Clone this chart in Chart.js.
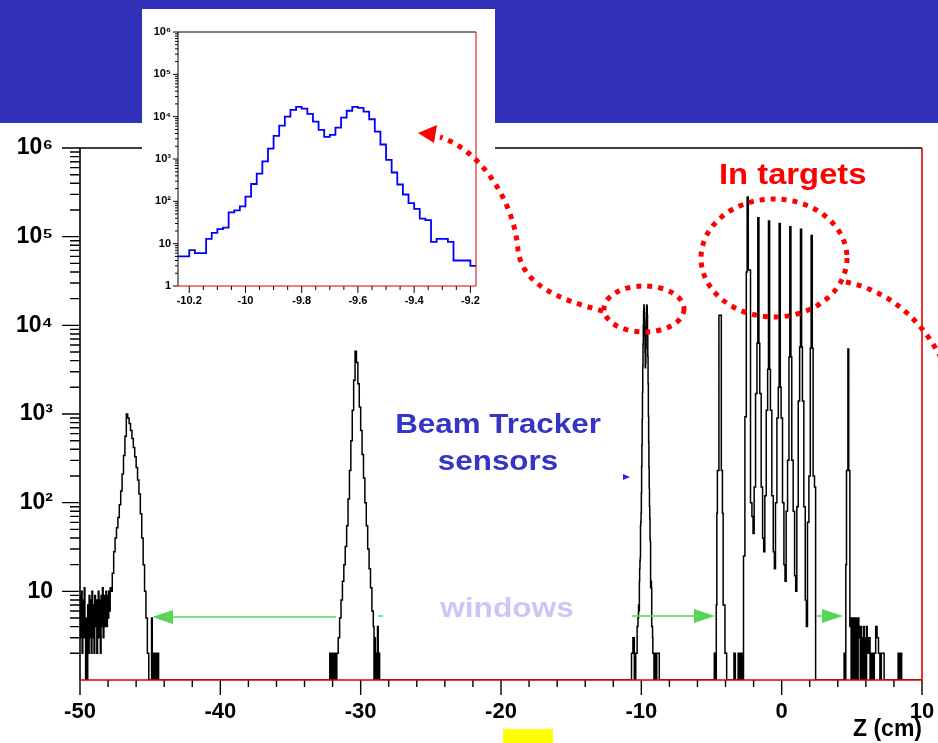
<!DOCTYPE html>
<html>
<head>
<meta charset="utf-8">
<script src="https://cdn.jsdelivr.net/npm/chart.js@4/dist/chart.umd.min.js"></script>
<style>
  html, body { margin: 0; padding: 0; background: #fff; }
  #page { position: relative; width: 938px; height: 743px; overflow: hidden; background: #fff; }
  #band { position: absolute; left: 0; top: 0; width: 938px; height: 123px; background: #3131b9; }
  #main { position: absolute; left: 0; top: 0; }
  #inset { position: absolute; left: 142px; top: 9px; background: #fff; }
  #callouts { position: absolute; left: 0; top: 0; pointer-events: none; }
</style>
</head>
<body>
<div id="page">
  <div id="band"></div>
  <canvas id="main" width="938" height="743"></canvas>
  <canvas id="inset" width="353" height="300"></canvas>
  <canvas id="callouts" width="938" height="743"></canvas>
</div>
<script>
// Vertex Z distribution, entries per bin: [left edge (cm), entries].
// Empty bins are kept at 1 so they sit on the bottom of the log axis.
const upstreamSensor = [
  [-50.00, 9], [-49.95, 3], [-49.90, 10], [-49.85, 2], [-49.80, 8], [-49.75, 3],
  [-49.70, 11], [-49.65, 4], [-49.60, 1], [-49.55, 5], [-49.50, 1], [-49.45, 7],
  [-49.40, 2], [-49.35, 9], [-49.30, 3], [-49.25, 8], [-49.20, 2], [-49.15, 10],
  [-49.10, 3], [-49.05, 7], [-49.00, 2], [-48.95, 9], [-48.90, 4], [-48.85, 8],
  [-48.80, 2], [-48.75, 6], [-48.70, 10], [-48.65, 3], [-48.60, 8], [-48.55, 2],
  [-48.50, 9], [-48.45, 4], [-48.40, 11], [-48.35, 3], [-48.30, 9], [-48.25, 4],
  [-48.20, 7], [-48.15, 10], [-48.10, 4], [-48.05, 9], [-48.00, 5], [-47.95, 10],
  [-47.90, 6], [-47.85, 11],
  [-47.8, 10], [-47.7, 16], [-47.6, 28], [-47.5, 40], [-47.4, 52], [-47.3, 68],
  [-47.2, 95], [-47.1, 135], [-47.0, 210], [-46.9, 340], [-46.8, 560], [-46.7, 1000],
  [-46.6, 900], [-46.5, 780], [-46.4, 650], [-46.3, 530], [-46.2, 420], [-46.1, 330],
  [-46.0, 250], [-45.9, 180], [-45.8, 125], [-45.7, 75], [-45.6, 40], [-45.5, 20],
  [-45.4, 10], [-45.3, 5], [-45.2, 2], [-45.1, 1], [-44.9, 5], [-44.85, 2], [-44.8, 1],
  [-44.75, 2], [-44.7, 1], [-44.65, 2], [-44.55, 1], [-44.5, 2], [-44.4, 1]
];

const midSensor = [
  [-32.2, 2], [-32.15, 1], [-32.1, 2], [-32.05, 1], [-32.0, 2], [-31.9, 1],
  [-31.85, 2], [-31.8, 1], [-31.7, 2], [-31.6, 3], [-31.5, 5], [-31.4, 8], [-31.3, 13],
  [-31.2, 20], [-31.1, 32], [-31.0, 55], [-30.9, 110], [-30.8, 230], [-30.7, 500],
  [-30.6, 1100], [-30.5, 2400], [-30.4, 5100], [-30.3, 3800], [-30.2, 2200], [-30.1, 1200],
  [-30.0, 650], [-29.9, 350], [-29.8, 190], [-29.7, 100], [-29.6, 55], [-29.5, 30],
  [-29.4, 18], [-29.3, 11], [-29.2, 6], [-29.1, 4], [-29.05, 1], [-29.0, 3], [-28.95, 1],
  [-28.9, 2], [-28.85, 1], [-28.8, 4], [-28.75, 1], [-28.7, 2], [-28.65, 1]
];

// sensor near -10 cm: outer tails here, the core is the fine-binned zoom below
const sensor3Lead = [
  [-10.9, 1], [-10.7, 2], [-10.6, 3], [-10.5, 1], [-10.4, 2], [-10.3, 4]
];
const sensor3Trail = [[-9.18, 2], [-9.1, 1], [-9.05, 2], [-8.95, 1], [-8.9, 2], [-8.72, 1]];

// fine binning of the -10 cm sensor (0.02 cm bins from -10.24 to -9.18)
const insetStart = -10.24;
const insetEnd = -9.18;
const insetBinWidth = 0.02;
const insetCounts = [
  5, 5, 7, 6, 6, 13, 18, 22, 24, 55,
  61, 76, 129, 257, 450, 880, 1760, 3500, 6160, 10000,
  14500, 17000, 15500, 11700, 7600, 4900, 3330, 3700, 5500, 9500,
  13800, 17000, 16200, 13200, 8700, 4450, 2200, 950, 480, 250,
  145, 91, 66, 39, 36, 11, 13, 13, 11, 4,
  4, 4, 3
];

const upstreamWindow = [
  [-4.8, 2], [-4.7, 1], [-4.66, 7], [-4.62, 76], [-4.58, 230], [-4.47, 13000],
  [-4.3, 230], [-4.22, 76], [-4.17, 7], [-4.04, 2], [-3.92, 1]
];

const targets = [
  [-3.4, 2], [-3.3, 1], [-3.1, 2], [-3.0, 1], [-2.9, 2], [-2.8, 1],
  [-2.72, 25], [-2.62, 930], [-2.52, 40000], [-2.46, 280000], [-2.38, 42000],
  [-2.22, 100], [-2.12, 70], [-2.04, 45],
  [-1.96, 150], [-1.86, 1700], [-1.76, 6300], [-1.70, 163000], [-1.62, 6300],
  [-1.56, 1700], [-1.46, 150], [-1.36, 40], [-1.28, 28],
  [-1.20, 120], [-1.10, 1100], [-1.00, 3200], [-0.94, 150000], [-0.86, 3200],
  [-0.80, 1100], [-0.70, 120], [-0.60, 28], [-0.52, 18],
  [-0.44, 100], [-0.34, 900], [-0.24, 2000], [-0.18, 141000], [-0.10, 2000],
  [-0.04, 900], [0.06, 100], [0.16, 20], [0.24, 13],
  [0.32, 80], [0.42, 300], [0.52, 4400], [0.58, 129000], [0.66, 4400],
  [0.72, 300], [0.82, 80], [0.92, 15], [1.00, 10],
  [1.08, 90], [1.18, 1400], [1.28, 5700], [1.34, 121000], [1.42, 5700],
  [1.48, 1400], [1.58, 90], [1.68, 8], [1.76, 4],
  [1.84, 60], [1.94, 200], [2.04, 5500], [2.10, 103000], [2.18, 5500],
  [2.24, 200], [2.34, 150], [2.42, 1]
];

const downstreamWindow = [
  [4.45, 2], [4.52, 1], [4.57, 20], [4.62, 230], [4.72, 5400], [4.78, 230], [4.86, 4],
  [4.90, 5], [4.95, 1], [5.00, 4], [5.05, 5], [5.10, 1], [5.15, 5], [5.20, 4],
  [5.25, 1], [5.30, 5], [5.35, 3], [5.40, 1], [5.45, 5], [5.50, 3], [5.55, 4],
  [5.60, 1], [5.65, 4], [5.70, 3], [5.75, 1], [5.80, 2], [5.85, 4], [5.90, 1],
  [5.95, 3], [6.00, 1], [6.05, 4],
  [6.1, 2], [6.2, 3], [6.3, 1], [6.4, 2], [6.5, 1], [6.6, 2], [6.7, 4], [6.8, 3],
  [6.9, 2], [7.0, 1], [7.1, 2], [7.2, 2], [7.3, 1], [8.3, 2], [8.4, 1], [8.45, 2],
  [8.55, 1], [10, 1]
];

// axis labels
const yDecades = [1, 10, 100, 1e3, 1e4, 1e5, 1e6];
const mainYLabels = ['', '10', '10²', '10³', '10⁴', '10⁵', '10⁶'];
const insetYLabels = ['1', '10', '10²', '10³', '10⁴', '10⁵', '10⁶'];
const mainZMajor = [-50, -40, -30, -20, -10, 0, 10];
const insetZMajor = [-10.2, -10, -9.8, -9.6, -9.4, -9.2];
const insetZLabels = ['-10.2', '-10', '-9.8', '-9.6', '-9.4', '-9.2'];

const FONT = "'Liberation Sans', Arial, Helvetica, sans-serif";

function logTickValues(minValue) {
  const vals = [];
  for (let i = 0; i < yDecades.length - 1; i++) {
    for (let k = 1; k <= 9; k++) vals.push(yDecades[i] * k);
  }
  vals.push(yDecades[yDecades.length - 1]);
  return vals.filter(v => v >= minValue);
}

function decadeLabel(labels) {
  return v => {
    const i = yDecades.indexOf(v);
    return i < 0 ? '' : labels[i];
  };
}

// ROOT-like frame: black top/left, red right/bottom, outward tick marks
function frameTicks(cfg) {
  return {
    id: 'frameTicks',
    afterDatasetsDraw(chart) {
      const { ctx, chartArea: a, scales: { x, y } } = chart;
      ctx.save();
      ctx.lineCap = 'butt';
      ctx.strokeStyle = '#000';
      ctx.lineWidth = cfg.tickWidth;
      ctx.beginPath();
      y.ticks.forEach(t => {
        const py = y.getPixelForValue(t.value);
        const len = t.label ? cfg.yMajor : cfg.yMinor;
        ctx.moveTo(a.left - len, py);
        ctx.lineTo(a.left, py);
      });
      x.ticks.forEach(t => {
        const px = x.getPixelForValue(t.value);
        const len = t.label ? cfg.xMajor : cfg.xMinor;
        ctx.moveTo(px, a.bottom);
        ctx.lineTo(px, a.bottom + len);
      });
      ctx.stroke();

      ctx.lineWidth = cfg.frameWidth;
      ctx.beginPath();
      ctx.moveTo(a.left, a.bottom);
      ctx.lineTo(a.left, a.top);
      ctx.lineTo(a.right, a.top);
      ctx.stroke();

      ctx.strokeStyle = cfg.red;
      ctx.beginPath();
      ctx.moveTo(a.left, a.bottom);
      ctx.lineTo(a.right, a.bottom);
      ctx.lineTo(a.right, a.top);
      ctx.stroke();
      ctx.restore();
    }
  };
}

// keep the plot box where the layout padding puts it
function fixWidth(w) {
  return s => { s.width = w; s.paddingTop = 0; s.paddingBottom = 0; };
}
function fixHeight(h) {
  return s => { s.height = h; s.paddingLeft = 0; s.paddingRight = 0; };
}

const toXY = ([x, y]) => ({ x, y });
const insetBins = insetCounts.map((n, i) => [insetStart + i * insetBinWidth, n]);

const mainPoints = [
  ...upstreamSensor, ...midSensor, ...sensor3Lead, ...insetBins, ...sensor3Trail,
  ...upstreamWindow, ...targets, ...downstreamWindow
].map(toXY);

const insetPoints = [...insetBins, [insetEnd, insetCounts[insetCounts.length - 1]]].map(toXY);

// main Z distribution
new Chart(document.getElementById('main'), {
  type: 'line',
  data: {
    datasets: [{
      data: mainPoints,
      borderColor: '#000',
      borderWidth: 1.5,
      stepped: 'before',
      pointRadius: 0,
      fill: false,
      tension: 0
    }]
  },
  options: {
    responsive: false,
    animation: false,
    events: [],
    layout: { autoPadding: false, padding: { left: 0, top: 148, right: 16, bottom: 0 } },
    plugins: { legend: { display: false }, tooltip: { enabled: false } },
    scales: {
      x: {
        type: 'linear',
        min: -50,
        max: 10,
        grid: { display: false, drawTicks: false },
        border: { display: false },
        afterBuildTicks: s => {
          const ticks = [];
          for (let z = -50; z <= 10; z += 2) ticks.push({ value: z });
          s.ticks = ticks;
        },
        afterFit: fixHeight(63),
        title: {
          display: true,
          text: 'Z (cm)',
          align: 'end',
          color: '#000',
          padding: { top: 0, bottom: 0 },
          font: { family: FONT, size: 23, weight: 'bold' }
        },
        ticks: {
          autoSkip: false,
          maxRotation: 0,
          padding: 19,
          color: '#000',
          font: { family: FONT, size: 22, weight: 'bold' },
          callback: v => (mainZMajor.includes(v) ? String(v) : '')
        }
      },
      y: {
        type: 'logarithmic',
        min: 1,
        max: 1e6,
        grid: { display: false, drawTicks: false },
        border: { display: false },
        afterBuildTicks: s => { s.ticks = logTickValues(2).map(v => ({ value: v })); },
        afterFit: fixWidth(80),
        ticks: {
          autoSkip: false,
          padding: 27,
          color: '#000',
          font: { family: FONT, size: 23, weight: 'bold' },
          callback: decadeLabel(mainYLabels)
        }
      }
    }
  },
  plugins: [frameTicks({ tickWidth: 1.4, frameWidth: 1.6, yMajor: 18, yMinor: 10, xMajor: 15, xMinor: 7, red: '#e00000' })]
});

// zoom on the -10 cm sensor
new Chart(document.getElementById('inset'), {
  type: 'line',
  data: {
    datasets: [{
      data: insetPoints,
      borderColor: '#0000ff',
      borderWidth: 1.8,
      stepped: 'before',
      pointRadius: 0,
      fill: false,
      tension: 0
    }]
  },
  options: {
    responsive: false,
    animation: false,
    events: [],
    layout: { autoPadding: false, padding: { left: 0, top: 23, right: 19, bottom: 0 } },
    plugins: { legend: { display: false }, tooltip: { enabled: false } },
    scales: {
      x: {
        type: 'linear',
        min: insetStart,
        max: insetEnd,
        grid: { display: false, drawTicks: false },
        border: { display: false },
        afterBuildTicks: s => {
          const ticks = [];
          for (let k = -204; k <= -184; k++) ticks.push({ value: k / 20 });
          s.ticks = ticks;
        },
        afterFit: fixHeight(23),
        ticks: {
          autoSkip: false,
          maxRotation: 0,
          padding: 8,
          color: '#000',
          font: { family: FONT, size: 11, weight: 'bold' },
          callback: v => {
            const i = insetZMajor.findIndex(m => Math.abs(m - v) < 1e-9);
            return i < 0 ? '' : insetZLabels[i];
          }
        }
      },
      y: {
        type: 'logarithmic',
        min: 1,
        max: 1e6,
        grid: { display: false, drawTicks: false },
        border: { display: false },
        afterBuildTicks: s => { s.ticks = logTickValues(1).map(v => ({ value: v })); },
        afterFit: fixWidth(36),
        ticks: {
          autoSkip: false,
          padding: 7,
          color: '#000',
          font: { family: FONT, size: 11, weight: 'bold' },
          callback: decadeLabel(insetYLabels)
        }
      }
    }
  },
  plugins: [frameTicks({ tickWidth: 1, frameWidth: 1, yMajor: 5, yMinor: 3, xMajor: 7, xMinor: 4, red: '#e00000' })]
});

// callouts drawn over both plots
function stretchedText(ctx, text, x, y, size, color, sx, align) {
  ctx.save();
  ctx.font = `bold ${size}px ${FONT}`;
  ctx.fillStyle = color;
  ctx.textAlign = align;
  ctx.textBaseline = 'alphabetic';
  ctx.translate(x, y);
  ctx.scale(sx, 1);
  ctx.fillText(text, 0, 0);
  ctx.restore();
}

function greenArrow(ctx, x0, x1, y, tipX, dir) {
  ctx.strokeStyle = '#55d655';
  ctx.fillStyle = '#55d655';
  ctx.lineWidth = 1.5;
  ctx.beginPath();
  ctx.moveTo(x0, y);
  ctx.lineTo(x1, y);
  ctx.stroke();
  ctx.beginPath();
  ctx.moveTo(tipX, y);
  ctx.lineTo(tipX - dir * 21, y - 7);
  ctx.lineTo(tipX - dir * 21, y + 7);
  ctx.closePath();
  ctx.fill();
}

function drawCallouts() {
  const ctx = document.getElementById('callouts').getContext('2d');

  // windows arrows
  greenArrow(ctx, 172, 336, 617, 152, -1);
  greenArrow(ctx, 378, 383, 616, 378, 0);
  greenArrow(ctx, 632, 697, 616, 715, 1);
  greenArrow(ctx, 817, 824, 616, 843, 1);

  stretchedText(ctx, 'windows', 507, 617, 28, '#c8c8f6', 1.13, 'center');
  stretchedText(ctx, 'Beam Tracker', 498, 433, 28, '#3434c6', 1.12, 'center');
  stretchedText(ctx, 'sensors', 498, 470, 28, '#3434c6', 1.12, 'center');
  stretchedText(ctx, 'In targets', 719, 184, 29, '#ff0000', 1.13, 'left');

  // small blue marker
  ctx.fillStyle = '#2424ff';
  ctx.beginPath();
  ctx.moveTo(623, 474);
  ctx.lineTo(630, 477);
  ctx.lineTo(623, 480);
  ctx.closePath();
  ctx.fill();

  // red dotted rings and leaders
  ctx.strokeStyle = '#ff0000';
  ctx.lineWidth = 5;
  ctx.setLineDash([5, 6]);

  ctx.beginPath();
  ctx.ellipse(644, 309, 40, 23, 0, 0, Math.PI * 2);
  ctx.stroke();

  ctx.beginPath();
  ctx.ellipse(774, 258, 73, 59, 0, 0, Math.PI * 2);
  ctx.stroke();

  ctx.beginPath();
  ctx.moveTo(603, 311);
  ctx.bezierCurveTo(560, 300, 522, 285, 518, 250);
  ctx.bezierCurveTo(514, 200, 480, 150, 440, 137);
  ctx.stroke();

  ctx.beginPath();
  ctx.moveTo(846, 282);
  ctx.bezierCurveTo(885, 290, 918, 315, 940, 356);
  ctx.stroke();

  ctx.setLineDash([]);
  ctx.fillStyle = '#ff0000';
  ctx.beginPath();
  ctx.moveTo(418, 133);
  ctx.lineTo(437, 125);
  ctx.lineTo(434, 143);
  ctx.closePath();
  ctx.fill();

  // yellow tab under the axis
  ctx.fillStyle = '#ffff00';
  ctx.fillRect(503, 729, 50, 14);
}

drawCallouts();
</script>
</body>
</html>
